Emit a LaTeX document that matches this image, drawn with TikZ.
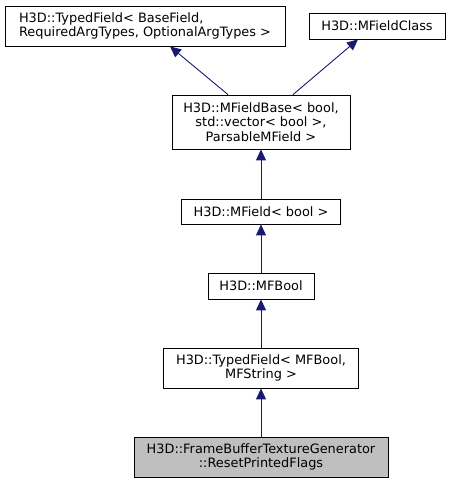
\documentclass[tikz,border=0pt]{standalone}
\usepackage{fontspec}
\setmainfont{DejaVu Sans}
\usetikzlibrary{arrows.meta}
\definecolor{edgeblue}{HTML}{191970}
\definecolor{curgray}{HTML}{BFBFBF}

\begin{document}
\begin{tikzpicture}[x=1pt,y=-1pt,
    cls/.style={draw,line width=0.8pt,inner sep=0pt,align=center,font=\fontsize{12.9}{14.8}\selectfont},
    inh/.style={-{Triangle[length=11pt,width=10pt]},edgeblue,line width=0.9pt}]
    \useasboundingbox (0,0) rectangle (450,484);
    \node[cls,align=left,minimum width=280pt,minimum height=40pt] (tfbase) at (145,26) {H3D::TypedField< BaseField,\\ RequiredArgTypes, OptionalArgTypes >};
    \node[cls,minimum width=136pt,minimum height=26pt] (mfclass) at (377,26) {H3D::MFieldClass};
    \node[cls,minimum width=178pt,minimum height=54pt] (mfbase) at (261,122) {H3D::MFieldBase< bool,\\std::vector< bool >,\\ParsableMField >};
    \node[cls,minimum width=159pt,minimum height=25pt] (mfield) at (261,211.5) {H3D::MField< bool >};
    \node[cls,minimum width=106pt,minimum height=26pt] (mfbool) at (261,286) {H3D::MFBool};
    \node[cls,minimum width=195pt,minimum height=40pt] (tfbool) at (261,368) {H3D::TypedField< MFBool,\\MFString >};
    \node[cls,fill=curgray,minimum width=254pt,minimum height=40pt] (reset) at (261,457) {H3D::FrameBufferTextureGenerator\\::ResetPrintedFlags};
    \draw[inh] ([xshift=-33pt]mfbase.north) -- ([xshift=25pt]tfbase.south);
    \draw[inh] ([xshift=32pt]mfbase.north) -- ([xshift=-19pt]mfclass.south);
    \draw[inh] (mfield) -- (mfbase);
    \draw[inh] (mfbool) -- (mfield);
    \draw[inh] (tfbool) -- (mfbool);
    \draw[inh] (reset) -- (tfbool);
\end{tikzpicture}
\end{document}
